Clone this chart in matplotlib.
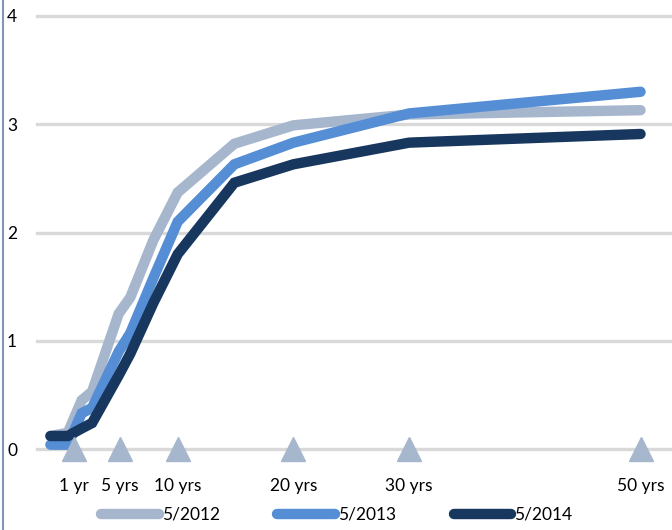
import matplotlib
matplotlib.use("Agg")
import matplotlib.pyplot as plt
from matplotlib.lines import Line2D

plt.rcParams['font.family'] = ['Lato', 'DejaVu Sans']

# Maturity positions (years) of the curve vertices
maturities = [-1.0, 0.5, 1.7, 2.6, 4.9, 5.9, 7.9, 10.0, 14.9, 20.0, 30.0, 50.0]

# Yield curves (%)
y2012 = [0.12, 0.15, 0.45, 0.53, 1.25, 1.40, 1.93, 2.37, 2.82, 2.99, 3.09, 3.13]
y2013 = [0.04, 0.04, 0.33, 0.38, 0.90, 1.07, 1.58, 2.10, 2.63, 2.83, 3.10, 3.30]
y2014 = [0.12, 0.12, 0.19, 0.24, 0.68, 0.88, 1.35, 1.80, 2.46, 2.63, 2.83, 2.91]

series_labels = ["5/2012", "5/2013", "5/2014"]
series_colors = ["#A6B7CD", "#558ED5", "#17375E"]

# Benchmark maturities marked along the zero line
bench_years = [1, 5, 10, 20, 30, 50]
bench_labels = ["1 yr", "5 yrs", "10 yrs", "20 yrs", "30 yrs", "50 yrs"]

y_ticks = [0, 1, 2, 3, 4]

W, H = 672, 530
fig = plt.figure(figsize=(W / 100, H / 100), dpi=100)
ax = fig.add_axes([37 / W, (H - 449) / H, (W - 37) / W, 433 / H])

ax.set_xlim(-2.16, 52.72)
ax.set_ylim(0, 4)

for t in y_ticks:
    ax.axhline(t, color="#D9D9D9", lw=2.4, zorder=1, clip_on=False)

for vals, lab, col, z in zip([y2012, y2013, y2014], series_labels, series_colors, [3, 4, 5]):
    ax.plot(maturities, vals, color=col, lw=7.5, label=lab, zorder=z,
            solid_capstyle="round", solid_joinstyle="miter", clip_on=False)

ax.plot(bench_years, [0] * len(bench_years), linestyle="none", marker="^",
        ms=17, color="#A6B7CD", zorder=6, clip_on=False)

for yr, lab in zip(bench_years, bench_labels):
    ax.annotate(lab, xy=(yr, 0), xytext=(0, -26.5), textcoords="offset points",
                ha="center", va="center", fontsize=12.5, color="#000000")

ax.set_yticks(y_ticks)
ax.set_yticklabels([str(t) for t in y_ticks], fontsize=12.5)
ax.tick_params(axis="y", length=0, pad=18)
for lab in ax.get_yticklabels():
    lab.set_horizontalalignment("center")
ax.set_xticks([])
for s in ax.spines.values():
    s.set_visible(False)

# Chart frame edge on the left
fig.add_artist(Line2D([3 / W, 3 / W], [0, 1], transform=fig.transFigure,
                      color="#7F97B5", lw=1.5))

leg = fig.legend(loc="center", bbox_to_anchor=(337 / W, (H - 515) / H), ncol=3,
                 frameon=False, fontsize=12.5, handlelength=3.3, handletextpad=0.2,
                 columnspacing=3.3, borderaxespad=0)

fig.savefig("out.png", dpi=100)
